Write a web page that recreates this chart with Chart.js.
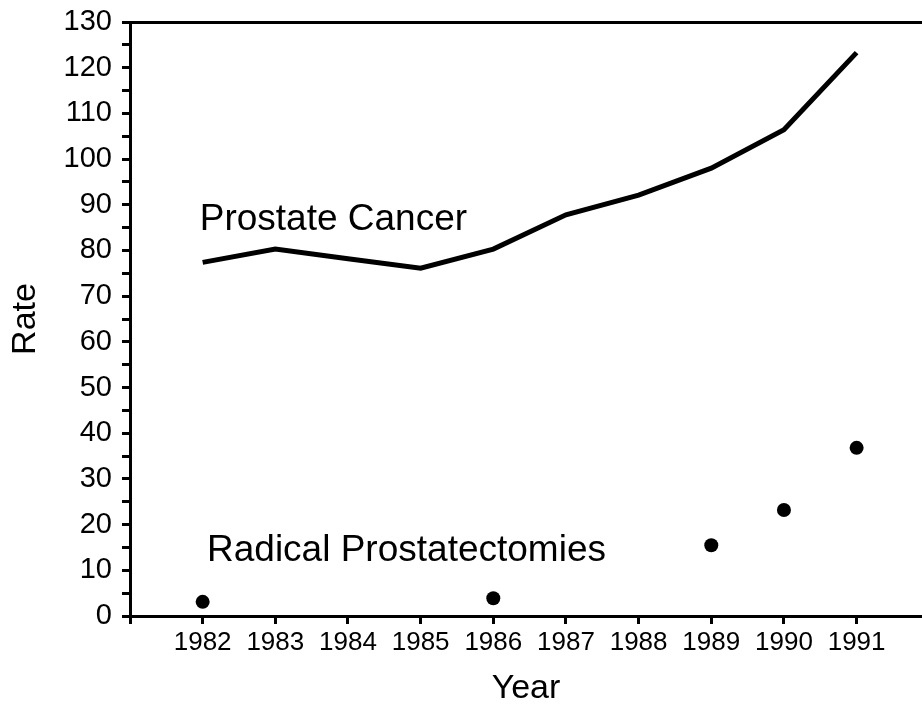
<!DOCTYPE html>
<html>
<head>
<meta charset="utf-8">
<script src="https://cdn.jsdelivr.net/npm/chart.js@4.4.1/dist/chart.umd.min.js"></script>
<style>
  body { margin: 0; background: #fff; }
  canvas { display: block; }
</style>
</head>
<body>
<canvas id="chart" width="922" height="709"></canvas>
<script>
// Datos
const years = [1982, 1983, 1984, 1985, 1986, 1987, 1988, 1989, 1990, 1991];
const cancerRate = [77.4, 80.3, 78.2, 76.1, 80.3, 87.8, 92.1, 98.0, 106.4, 123.3];

const surgeryYears = [1982, 1986, 1989, 1990, 1991];
const surgeryRate = [3.1, 3.9, 15.5, 23.2, 36.8];

const cancerLabel = 'Prostate Cancer';
const surgeryLabel = 'Radical Prostatectomies';

const FONT = '"Liberation Sans", Arial, Helvetica, sans-serif';

// Textos dentro del área del gráfico (en coordenadas de datos)
const labelPlugin = {
    id: 'seriesLabels',
    afterDatasetsDraw(chart) {
        const {ctx, scales} = chart;
        const items = [
            {text: cancerLabel, x: 1981.96, y: 84.5},
            {text: surgeryLabel, x: 1982.06, y: 12.0}
        ];
        ctx.save();
        ctx.fillStyle = '#000';
        ctx.font = '37px ' + FONT;
        ctx.textAlign = 'left';
        ctx.textBaseline = 'alphabetic';
        items.forEach(it => {
            ctx.fillText(it.text, scales.x.getPixelForValue(it.x), scales.y.getPixelForValue(it.y));
        });
        ctx.restore();
    }
};

new Chart(document.getElementById('chart'), {
    type: 'line',
    data: {
        datasets: [{
            label: cancerLabel,
            data: years.map((y, i) => ({x: y, y: cancerRate[i]})),
            borderColor: '#000',
            borderWidth: 5,
            pointRadius: 0,
            tension: 0,
            fill: false
        }, {
            label: surgeryLabel,
            data: surgeryYears.map((y, i) => ({x: y, y: surgeryRate[i]})),
            showLine: false,
            pointRadius: 7,
            pointBackgroundColor: '#000',
            pointBorderColor: '#000',
            pointBorderWidth: 0
        }]
    },
    options: {
        responsive: false,
        animation: false,
        layout: { autoPadding: false, padding: { top: 22, right: 0, left: 0, bottom: 0 } },
        plugins: {
            legend: { display: false },
            tooltip: { enabled: false }
        },
        scales: {
            x: {
                type: 'linear',
                min: 1981,
                max: 1991.9,
                afterFit: scale => { scale.height = 93; },
                border: { color: '#000', width: 3 },
                grid: {
                    color: 'rgba(0,0,0,0)',
                    tickColor: '#000',
                    tickLength: 8,
                    lineWidth: 3
                },
                ticks: {
                    stepSize: 1,
                    includeBounds: false,
                    autoSkip: false,
                    maxRotation: 0,
                    padding: 3,
                    color: '#000',
                    font: { family: FONT, size: 26 },
                    callback: v => (v >= 1982 ? String(v) : '')
                },
                title: {
                    display: true,
                    text: 'Year',
                    color: '#000',
                    font: { family: FONT, size: 34 },
                    padding: { top: 0, bottom: 0 }
                }
            },
            y: {
                min: 0,
                max: 130,
                afterFit: scale => {
                    scale.width = 130;
                    scale.paddingTop = 0;
                    scale.paddingBottom = 0;
                },
                border: { color: '#000', width: 3 },
                grid: {
                    color: ctx => (ctx.tick && ctx.tick.value === 130 ? '#000' : 'rgba(0,0,0,0)'),
                    tickColor: '#000',
                    tickLength: 8,
                    lineWidth: 3
                },
                ticks: {
                    stepSize: 5,
                    autoSkip: false,
                    padding: 10,
                    color: '#000',
                    font: { family: FONT, size: 29 },
                    callback: v => (v % 10 === 0 ? String(v) : '')
                },
                title: {
                    display: true,
                    text: 'Rate',
                    color: '#000',
                    font: { family: FONT, size: 34 },
                    padding: { top: 5, bottom: 0 }
                }
            }
        }
    },
    plugins: [labelPlugin]
});
</script>
</body>
</html>
